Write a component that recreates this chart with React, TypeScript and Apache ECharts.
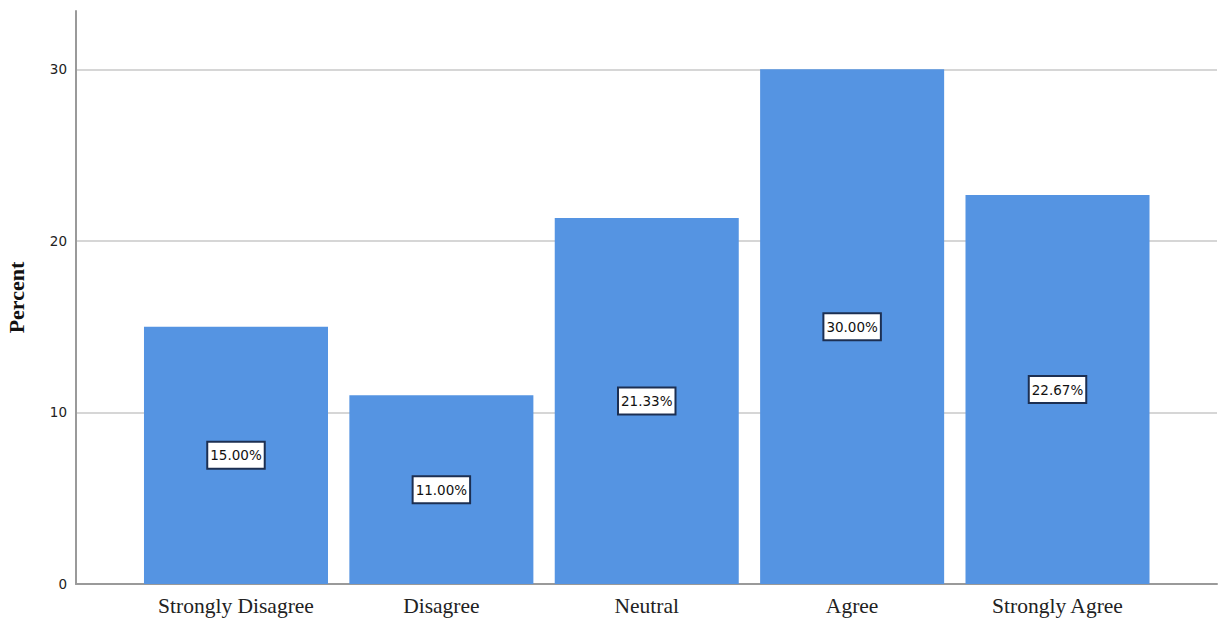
import React, { useEffect, useRef } from "react";
import * as echarts from "echarts";

// Response categories and their share of respondents (%)
const categories = ["Strongly Disagree", "Disagree", "Neutral", "Agree", "Strongly Agree"];
const percents = [15.0, 11.0, 21.33, 30.0, 22.67];

// Value axis settings
const yMin = 0;
const yMax = 33.4;
const yInterval = 10;
const yAxisTitle = "Percent";

const BAR_COLOR = "#5594e2";

export default function App() {
  const ref = useRef<HTMLDivElement>(null);

  useEffect(() => {
    if (!ref.current) return;
    const chart = echarts.init(ref.current, undefined, { renderer: "svg" });

    const option: echarts.EChartsCoreOption = {
      animation: false,
      backgroundColor: "#ffffff",
      grid: [
        // frame: y axis, gridlines and baseline
        { left: 76, right: 4, top: 11, bottom: 38, outerBoundsMode: "none", containLabel: false },
        // bars, inset from the frame on both sides
        { left: 133.3, right: 60.8, top: 11, bottom: 38, outerBoundsMode: "none", containLabel: false },
      ],
      xAxis: [
        {
          type: "category",
          gridIndex: 0,
          data: [""],
          axisLine: { show: true, lineStyle: { color: "#9a9a9a", width: 2 } },
          axisTick: { show: false },
          axisLabel: { show: false },
          splitLine: { show: false },
        },
        {
          type: "category",
          gridIndex: 1,
          data: categories,
          axisLine: { show: false },
          axisTick: { show: false },
          axisLabel: {
            color: "#222",
            fontFamily: "Liberation Serif",
            fontSize: 21.5,
            margin: 11,
          },
        },
      ],
      yAxis: [
        {
          type: "value",
          gridIndex: 0,
          min: yMin,
          max: yMax,
          interval: yInterval,
          name: yAxisTitle,
          nameLocation: "middle",
          nameGap: 49,
          nameTextStyle: {
            fontFamily: "Liberation Serif",
            fontWeight: "bold",
            fontSize: 22,
            color: "#111",
          },
          axisLine: { show: true, lineStyle: { color: "#9a9a9a", width: 2 } },
          axisTick: { show: false },
          axisLabel: {
            color: "#222",
            fontFamily: "DejaVu Sans",
            fontSize: 13.5,
            margin: 9,
            showMaxLabel: false,
          },
          splitLine: {
            show: true,
            showMaxLine: false,
            lineStyle: { color: "#d6d6d6", width: 2 },
          },
        },
        {
          type: "value",
          gridIndex: 1,
          min: yMin,
          max: yMax,
          interval: yInterval,
          show: false,
          splitLine: { show: false },
        },
      ],
      series: [
        {
          type: "bar",
          xAxisIndex: 1,
          yAxisIndex: 1,
          data: percents,
          barCategoryGap: "10.4%",
          itemStyle: { color: BAR_COLOR },
          label: {
            show: true,
            position: "inside",
            formatter: (p: any) => `${Number(p.value).toFixed(2)}%`,
            backgroundColor: "#ffffff",
            borderColor: "#1c2f52",
            borderWidth: 2,
            padding: [6, 2, 5, 2],
            color: "#111",
            fontFamily: "DejaVu Sans",
            fontSize: 13.5,
          },
        },
      ],
    };

    chart.setOption(option);
    return () => chart.dispose();
  }, []);

  return (
    <div
      ref={ref}
      style={{ position: "fixed", left: 0, top: 0, width: 1221, height: 622 }}
    />
  );
}
